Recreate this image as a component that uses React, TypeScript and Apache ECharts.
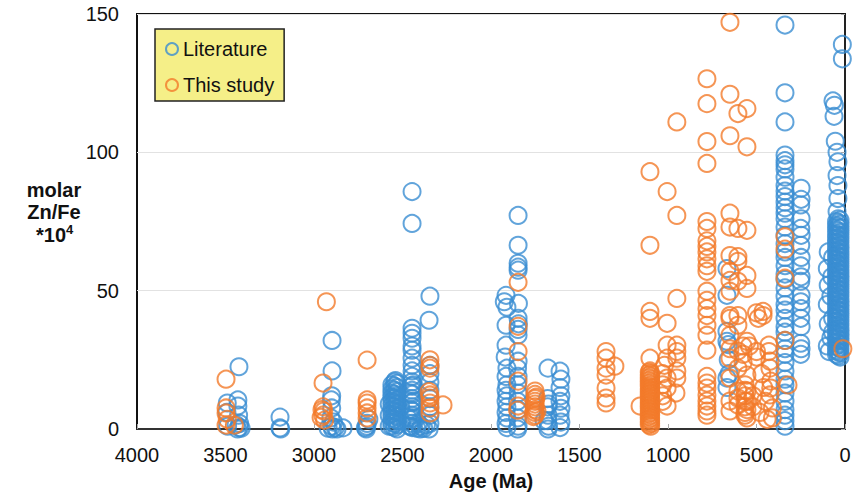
import React, { useEffect, useRef } from "react";
import * as echarts from "echarts";

const legendNames = ["Literature", "This study"];
const xTicks = { min: 0, max: 4000, interval: 500 };
const yTicks = { min: 0, max: 150, interval: 50 };

// [Age (Ma), molar Zn/Fe *10^4]
const literature: [number, number][] = [
  // ~3450
  [3490, 9.4], [3492, 6], [3488, 1], [3424, 22.5], [3430, 10.5], [3430, 8.3], [3426, 5], [3420, 2], [3422, 0.5], [3432, 0], [3412, 0.3], [3440, 1.5],
  // ~3200
  [3192, 4.3], [3192, 0.4], [3188, 0],
  // ~2900
  [2898, 32], [2898, 21], [2900, 12], [2902, 10.5], [2900, 7.6], [2905, 4], [2900, 1], [2895, 0], [2880, 0.5], [2836, 0.4], [2920, 0.3], [2870, 0], [2890, 2.5],
  // ~2700
  [2700, 2], [2702, 1], [2705, 0], [2690, 3.5], [2710, 0.5],
  // ~2545 dense block
  [2530, 0], [2545, 0.5], [2560, 1], [2530, 1.5], [2545, 2], [2560, 2.5], [2530, 3], [2545, 3.5], [2560, 4], [2530, 4.5], [2545, 5], [2560, 5.5],
  [2530, 6], [2545, 6.5], [2560, 7], [2530, 7.5], [2545, 8], [2560, 8.5], [2530, 9], [2545, 9.5], [2560, 10], [2530, 10.5], [2545, 11], [2560, 11.5],
  [2530, 12], [2545, 12.5], [2560, 13], [2530, 13.5], [2545, 14], [2560, 14.5], [2530, 15], [2545, 15.5], [2560, 16], [2530, 16.5], [2545, 17], [2540, 17.5],
  [2575, 1], [2575, 5], [2575, 9], [2510, 3], [2510, 8],
  // ~2446
  [2446, 85.8], [2446, 74.3], [2446, 36.4], [2446, 34.6], [2446, 32.8], [2446, 30], [2446, 28.5], [2446, 25.6], [2446, 23], [2446, 21], [2446, 19], [2446, 17], [2446, 15.5], [2446, 14], [2446, 12.5], [2446, 11], [2446, 9.5], [2446, 8], [2446, 6.5], [2446, 5], [2446, 3.5], [2446, 2], [2446, 0.5],
  [2440, 16], [2452, 13], [2440, 10], [2452, 7], [2440, 4], [2452, 1],
  [2460, 1], [2470, 4], [2420, 0.3], [2410, 2], [2400, 0], [2395, 1], [2380, 0.2],
  // ~2345
  [2345, 48], [2350, 39.3], [2345, 23], [2345, 20], [2345, 17], [2345, 14], [2345, 11], [2345, 8], [2345, 5], [2345, 2], [2350, 0], [2365, 1.5],
  // ~1910
  [1915, 48.3], [1925, 46], [1910, 44], [1915, 37.5], [1915, 30.3], [1910, 22], [1915, 19], [1910, 16], [1915, 14], [1910, 12], [1915, 10], [1910, 8], [1915, 6], [1910, 4], [1915, 2], [1910, 0.5], [1920, 26],
  // ~1847
  [1847, 77.2], [1847, 66.4], [1847, 59.9], [1847, 58.5], [1847, 57.4], [1845, 45.4], [1847, 40], [1845, 38], [1847, 36], [1847, 34], [1847, 24.5], [1850, 22], [1847, 19], [1850, 16], [1847, 13], [1850, 10], [1847, 7], [1850, 4], [1847, 1], [1850, 0],
  // ~1678
  [1678, 22], [1680, 11], [1675, 9], [1680, 8], [1678, 5], [1680, 3], [1675, 1], [1678, 0], [1700, 3],
  // ~1610
  [1610, 20.9], [1605, 18], [1610, 15], [1605, 12], [1610, 10], [1605, 7.5], [1610, 5], [1605, 2.5], [1610, 0.5],
  // ~660
  [667, 58], [667, 48.3], [667, 35.3], [667, 31.7], [660, 30.5], [667, 18.4], [667, 15], [660, 25], [655, 20],
  // ~339
  [339, 146], [339, 121.5], [339, 111], [339, 99], [339, 97], [339, 95.5], [339, 94], [339, 91], [339, 88], [339, 86], [339, 84], [339, 82], [339, 80], [339, 78], [339, 76], [339, 73], [339, 70], [339, 67], [339, 64], [339, 62], [339, 59], [339, 56], [339, 54], [339, 51], [339, 48], [339, 45], [339, 43], [339, 40], [339, 37], [339, 35], [339, 32], [339, 29], [339, 27], [339, 24], [339, 21], [339, 18], [339, 16], [339, 13], [339, 10], [339, 7], [339, 5], [339, 3], [339, 1],
  // ~250
  [248, 87], [248, 83], [250, 81], [248, 76], [250, 72.5], [248, 70], [250, 66.4], [248, 62], [250, 59], [248, 55], [250, 53.4], [248, 48.3], [250, 46], [248, 43.5], [250, 40], [248, 37], [250, 31], [248, 29], [250, 27],
  // 0-100, sparse top
  [15, 139], [15, 133.8], [68, 118.6], [60, 117], [62, 113], [55, 104], [45, 100], [40, 96.6], [45, 91.6], [40, 88], [40, 83.3], [45, 78.6],
  // 0-100, dense column
  [28, 26], [38, 26.5], [48, 27], [28, 27.5], [38, 28], [48, 28.5], [28, 29], [38, 29.5], [48, 30], [28, 30.5], [38, 31], [48, 31.5],
  [28, 32], [38, 32.5], [48, 33], [28, 33.5], [38, 34], [48, 34.5], [28, 35], [38, 35.5], [48, 36], [28, 36.5], [38, 37], [48, 37.5],
  [28, 38], [38, 38.5], [48, 39], [28, 39.5], [38, 40], [48, 40.5], [28, 41], [38, 41.5], [48, 42], [28, 42.5], [38, 43], [48, 43.5],
  [28, 44], [38, 44.5], [48, 45], [28, 45.5], [38, 46], [48, 46.5], [28, 47], [38, 47.5], [48, 48], [28, 48.5], [38, 49], [48, 49.5],
  [28, 50], [38, 50.5], [48, 51], [28, 51.5], [38, 52], [48, 52.5], [28, 53], [38, 53.5], [48, 54], [28, 54.5], [38, 55], [48, 55.5],
  [28, 56], [38, 56.5], [48, 57], [28, 57.5], [38, 58], [48, 58.5], [28, 59], [38, 59.5], [48, 60], [28, 60.5], [38, 61], [48, 61.5],
  [28, 62], [38, 62.5], [48, 63], [28, 63.5], [38, 64], [48, 64.5], [28, 65], [38, 65.5], [48, 66], [28, 66.5], [38, 67], [48, 67.5],
  [28, 68], [38, 68.5], [48, 69], [28, 69.5], [38, 70], [48, 70.5], [28, 71], [38, 71.5], [48, 72], [28, 72.5], [38, 73], [48, 73.5],
  [28, 74], [38, 74.5], [48, 75], [28, 75.5], [38, 76],
  // 50-100 fringe
  [70, 62], [75, 55], [80, 48], [70, 40], [80, 33], [95, 64], [100, 58], [95, 52], [100, 45], [95, 38], [100, 30], [90, 28], [70, 35],
];

const thisStudy: [number, number][] = [
  // ~3500
  [3497, 18], [3497, 7.6], [3497, 5.8], [3497, 1.4], [3450, 1.4], [3490, 3.5],
  // ~2950
  [2930, 46], [2949, 16.6], [2949, 8], [2945, 6.5], [2950, 5], [2940, 3.2], [2955, 7], [2960, 4.2],
  // ~2700
  [2700, 24.9], [2700, 10.5], [2700, 9.4], [2700, 7.6], [2700, 5.8], [2700, 4],
  // ~2350
  [2345, 25], [2345, 23], [2345, 22], [2350, 13.5], [2345, 12.3], [2345, 11.2], [2345, 9.4], [2345, 7.6], [2345, 5.8], [2271, 8.7],
  // ~1847
  [1847, 53], [1847, 37.1], [1847, 28], [1847, 17.3], [1847, 8.3], [1850, 6.8],
  // ~1750
  [1751, 13.7], [1751, 12.5], [1751, 11], [1751, 10], [1751, 9], [1751, 8], [1751, 7], [1751, 6], [1751, 5], [1760, 4.5], [1740, 6.5], [1745, 11.5],
  // ~1350
  [1350, 28], [1350, 25.6], [1350, 22], [1350, 19.5], [1350, 14.8], [1350, 11.2], [1350, 9.4], [1300, 22.7],
  // ~1100
  [1102, 93], [1102, 66.4], [1102, 42.5], [1102, 40], [1102, 25.6],
  [1098, 1], [1106, 1.5], [1098, 2], [1106, 2.5], [1098, 3], [1106, 3.5], [1098, 4], [1106, 4.5], [1098, 5], [1106, 5.5], [1098, 6], [1106, 6.5],
  [1098, 7], [1106, 7.5], [1098, 8], [1106, 8.5], [1098, 9], [1106, 9.5], [1098, 10], [1106, 10.5], [1098, 11], [1106, 11.5], [1098, 12], [1106, 12.5],
  [1098, 13], [1106, 13.5], [1098, 14], [1106, 14.5], [1098, 15], [1106, 15.5], [1098, 16], [1106, 16.5], [1098, 17], [1106, 17.5], [1098, 18], [1106, 18.5],
  [1098, 19], [1106, 19.5], [1098, 20], [1106, 20.5], [1102, 21],
  [1158, 8.3],
  // ~1000
  [1005, 85.8], [1005, 38.2], [1005, 30.3], [1005, 25.6], [1005, 18.4], [1005, 14.8], [1005, 8.3], [1030, 20], [1030, 16], [1030, 12], [1030, 10], [1020, 23],
  // ~950
  [950, 111], [950, 77.2], [950, 47.2], [950, 30.3], [950, 28], [950, 25.6], [950, 21], [950, 18.4], [955, 13],
  // ~780
  [780, 126.6], [780, 117.6], [780, 103.9], [780, 96], [780, 75], [780, 72.5], [780, 68], [780, 66], [780, 64], [780, 61.5], [780, 59], [780, 57], [780, 49.8], [780, 46.5], [780, 43.5], [780, 41], [780, 37.5], [780, 33.9], [780, 28.5], [780, 19], [780, 16.6], [780, 14.8], [780, 12.3], [780, 10.1], [780, 8.3], [780, 6.5], [780, 5],
  // ~650
  [650, 147], [650, 121], [650, 106], [650, 78], [650, 73], [650, 62.7], [650, 57], [650, 53.7], [650, 49.8], [650, 41], [650, 40], [650, 33.9], [650, 29], [650, 25.6], [650, 18.4], [650, 10.1], [650, 6.5],
  // ~605
  [605, 114], [605, 72.5], [605, 62.3], [605, 60.6], [605, 53.4], [605, 41], [605, 37.5], [605, 28.2], [605, 22], [605, 13.7], [605, 11.2], [605, 8.7],
  // ~554
  [554, 115.8], [554, 102], [554, 71.8], [554, 55.5], [554, 50.8], [554, 31.7], [554, 19.5], [554, 13.7], [554, 10], [554, 7], [554, 4],
  // ~570
  [576, 30], [576, 27], [576, 24], [565, 16], [565, 14], [565, 12], [565, 10], [565, 8], [565, 6], [565, 5],
  // 500-400
  [500, 42], [490, 40], [463, 42.5], [463, 41], [430, 30.3], [430, 28], [424, 24.5], [424, 22], [420, 17.3], [420, 14.8], [424, 12.3], [410, 7.6], [410, 4], [322, 15.9], [500, 28], [500, 26], [520, 12], [520, 8], [480, 6], [450, 10], [440, 3.5], [540, 30], [470, 20], [460, 15],
  // ~339
  [339, 69.5], [339, 65], [339, 54.5], [339, 32],
  // ~0
  [12, 29],
];

const BLUE = "#3a8dd2";
const ORANGE = "#f27a2a";
const FONT = "Liberation Sans, Arial, sans-serif";

export default function App() {
  const ref = useRef<HTMLDivElement>(null);
  useEffect(() => {
    if (!ref.current) return;
    const chart = echarts.init(ref.current, null, { renderer: "svg" });
    const mk = (name: string, data: [number, number][], color: string) => ({
      name,
      type: "scatter",
      data,
      symbol: "circle",
      symbolSize: 17,
      clip: false,
      itemStyle: { color: "rgba(255,255,255,0)", borderColor: color, borderWidth: 2 },
      emphasis: { disabled: true },
    });
    chart.setOption({
      animation: false,
      backgroundColor: "#fff",
      textStyle: { fontFamily: FONT },
      grid: { left: 137, right: 19, top: 14, bottom: 65, show: true, borderColor: "#111", borderWidth: 2, backgroundColor: "transparent" },
      legend: {
        orient: "vertical",
        left: 155,
        top: 29,
        data: legendNames,
        itemWidth: 12,
        itemHeight: 12,
        itemGap: 16,
        padding: [10, 10, 6, 10],
        backgroundColor: "#f5ef88",
        borderColor: "#222",
        borderWidth: 1.5,
        borderRadius: 0,
        textStyle: { fontSize: 20, color: "#111", fontFamily: FONT },
      },
      xAxis: {
        type: "value",
        inverse: true,
        min: xTicks.min,
        max: xTicks.max,
        interval: xTicks.interval,
        name: "Age (Ma)",
        nameLocation: "middle",
        nameGap: 42,
        nameTextStyle: { fontSize: 20, fontWeight: "bold", color: "#111", fontFamily: FONT },
        axisLine: { show: true, lineStyle: { color: "#333", width: 2 } },
        axisTick: { show: true, inside: true, length: 5, lineStyle: { color: "#aaa" } },
        axisLabel: { fontSize: 20, color: "#111", margin: 16, fontFamily: FONT, formatter: (v: number) => String(v) },
        splitLine: { show: false },
      },
      yAxis: {
        type: "value",
        min: yTicks.min,
        max: yTicks.max,
        interval: yTicks.interval,
        axisLine: { show: true, lineStyle: { color: "#222", width: 2 } },
        axisTick: { show: true, inside: false, length: 4, lineStyle: { color: "#aaa" } },
        axisLabel: { fontSize: 20, color: "#111", margin: 18, fontFamily: FONT, formatter: (v: number) => String(v) },
        splitLine: { show: true, lineStyle: { color: "#e2e2e2", width: 1 } },
      },
      graphic: [
        { type: "text", x: 54, y: 190, style: { text: "molar", fontSize: 20, fontWeight: "bold", fill: "#111", fontFamily: FONT, align: "center", verticalAlign: "middle" } },
        { type: "text", x: 54, y: 212, style: { text: "Zn/Fe", fontSize: 20, fontWeight: "bold", fill: "#111", fontFamily: FONT, align: "center", verticalAlign: "middle" } },
        { type: "text", x: 66, y: 235, style: { text: "*10", fontSize: 20, fontWeight: "bold", fill: "#111", fontFamily: FONT, align: "right", verticalAlign: "middle" } },
        { type: "text", x: 66, y: 229, style: { text: "4", fontSize: 13, fontWeight: "bold", fill: "#111", fontFamily: FONT, align: "left", verticalAlign: "middle" } },
      ],
      series: [mk(legendNames[0], literature, BLUE), mk(legendNames[1], thisStudy, ORANGE)],
    });
    return () => chart.dispose();
  }, []);
  return <div ref={ref} style={{ width: 864, height: 496, position: "absolute", left: 0, top: 0 }} />;
}
